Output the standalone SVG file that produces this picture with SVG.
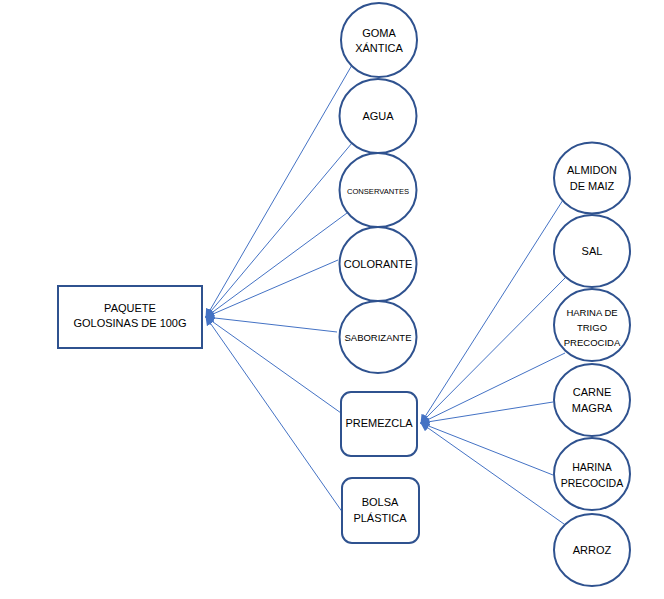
<svg xmlns="http://www.w3.org/2000/svg" width="664" height="599" viewBox="0 0 664 599">
<defs>
<style>
.n{fill:#fff;stroke:#2F528F;stroke-width:2}
.t{font-family:"Liberation Sans",Arial,sans-serif;font-size:11px;fill:#000;text-anchor:middle}
.c{stroke:#4472C4;stroke-width:1;fill:none;marker-end:url(#ah)}
</style>
<marker id="ah" viewBox="0 0 10 10" refX="9" refY="5" markerWidth="9" markerHeight="9" orient="auto" markerUnits="userSpaceOnUse">
<path d="M0,0 L10,5 L0,10 z" fill="#4472C4"/>
</marker>
</defs>
<rect width="664" height="599" fill="#fff"/>
<g id="connectors">
<line class="c" x1="352" y1="65" x2="206" y2="317"/>
<line class="c" x1="352" y1="143" x2="206" y2="317"/>
<line class="c" x1="347" y1="213" x2="206" y2="317"/>
<line class="c" x1="338" y1="260" x2="206" y2="317"/>
<line class="c" x1="337" y1="332" x2="206" y2="317"/>
<line class="c" x1="341" y1="413" x2="206" y2="317"/>
<line class="c" x1="343" y1="513" x2="206" y2="317"/>
<line class="c" x1="563" y1="200" x2="421" y2="423"/>
<line class="c" x1="565" y1="278" x2="421" y2="423"/>
<line class="c" x1="565" y1="353" x2="421" y2="423"/>
<line class="c" x1="553" y1="402" x2="421" y2="423"/>
<line class="c" x1="553" y1="475" x2="421" y2="423"/>
<line class="c" x1="564" y1="524" x2="421" y2="423"/>
</g>
<g id="paquete"><rect class="n" x="58" y="286" width="144" height="62"/><text class="t" x="130" y="312">PAQUETE</text><text class="t" x="130" y="327">GOLOSINAS DE 100G</text></g>
<g id="goma"><ellipse class="n" cx="379" cy="40" rx="38" ry="37"/><text class="t" x="379" y="37">GOMA</text><text class="t" x="379" y="52">XÁNTICA</text></g>
<g id="agua"><ellipse class="n" cx="378" cy="116" rx="38.5" ry="37"/><text class="t" x="378" y="120">AGUA</text></g>
<g id="conservantes"><ellipse class="n" cx="378" cy="190" rx="38.5" ry="37"/><text class="t" x="378" y="194" style="font-size:7.6px">CONSERVANTES</text></g>
<g id="colorante"><ellipse class="n" cx="378" cy="264" rx="38.5" ry="37"/><text class="t" x="378" y="268">COLORANTE</text></g>
<g id="saborizante"><ellipse class="n" cx="378" cy="337" rx="38.5" ry="36"/><text class="t" x="378" y="341" style="font-size:9.5px">SABORIZANTE</text></g>
<g id="premezcla"><rect class="n" x="341" y="392" width="76" height="64" rx="10"/><text class="t" x="379" y="427">PREMEZCLA</text></g>
<g id="bolsa"><rect class="n" x="342" y="478" width="77" height="65" rx="10"/><text class="t" x="380" y="506">BOLSA</text><text class="t" x="380" y="522">PLÁSTICA</text></g>
<g id="almidon"><ellipse class="n" cx="592" cy="178" rx="38" ry="35.5"/><text class="t" x="592" y="174">ALMIDON</text><text class="t" x="592" y="190">DE MAIZ</text></g>
<g id="sal"><ellipse class="n" cx="592" cy="251" rx="38" ry="36"/><text class="t" x="592" y="255">SAL</text></g>
<g id="harinatrigo"><ellipse class="n" cx="592" cy="325" rx="38" ry="36"/><text class="t" x="592" y="316" style="font-size:9.5px">HARINA DE</text><text class="t" x="592" y="331" style="font-size:9.5px">TRIGO</text><text class="t" x="592" y="346" style="font-size:9.5px">PRECOCIDA</text></g>
<g id="carne"><ellipse class="n" cx="592" cy="400" rx="38" ry="36"/><text class="t" x="592" y="396">CARNE</text><text class="t" x="592" y="412">MAGRA</text></g>
<g id="harinaprecocida"><ellipse class="n" cx="592" cy="474" rx="38" ry="36"/><text class="t" x="592" y="471" style="font-size:10.5px">HARINA</text><text class="t" x="592" y="487" style="font-size:10.5px">PRECOCIDA</text></g>
<g id="arroz"><ellipse class="n" cx="592" cy="550" rx="38" ry="36"/><text class="t" x="592" y="554">ARROZ</text></g>
</svg>
